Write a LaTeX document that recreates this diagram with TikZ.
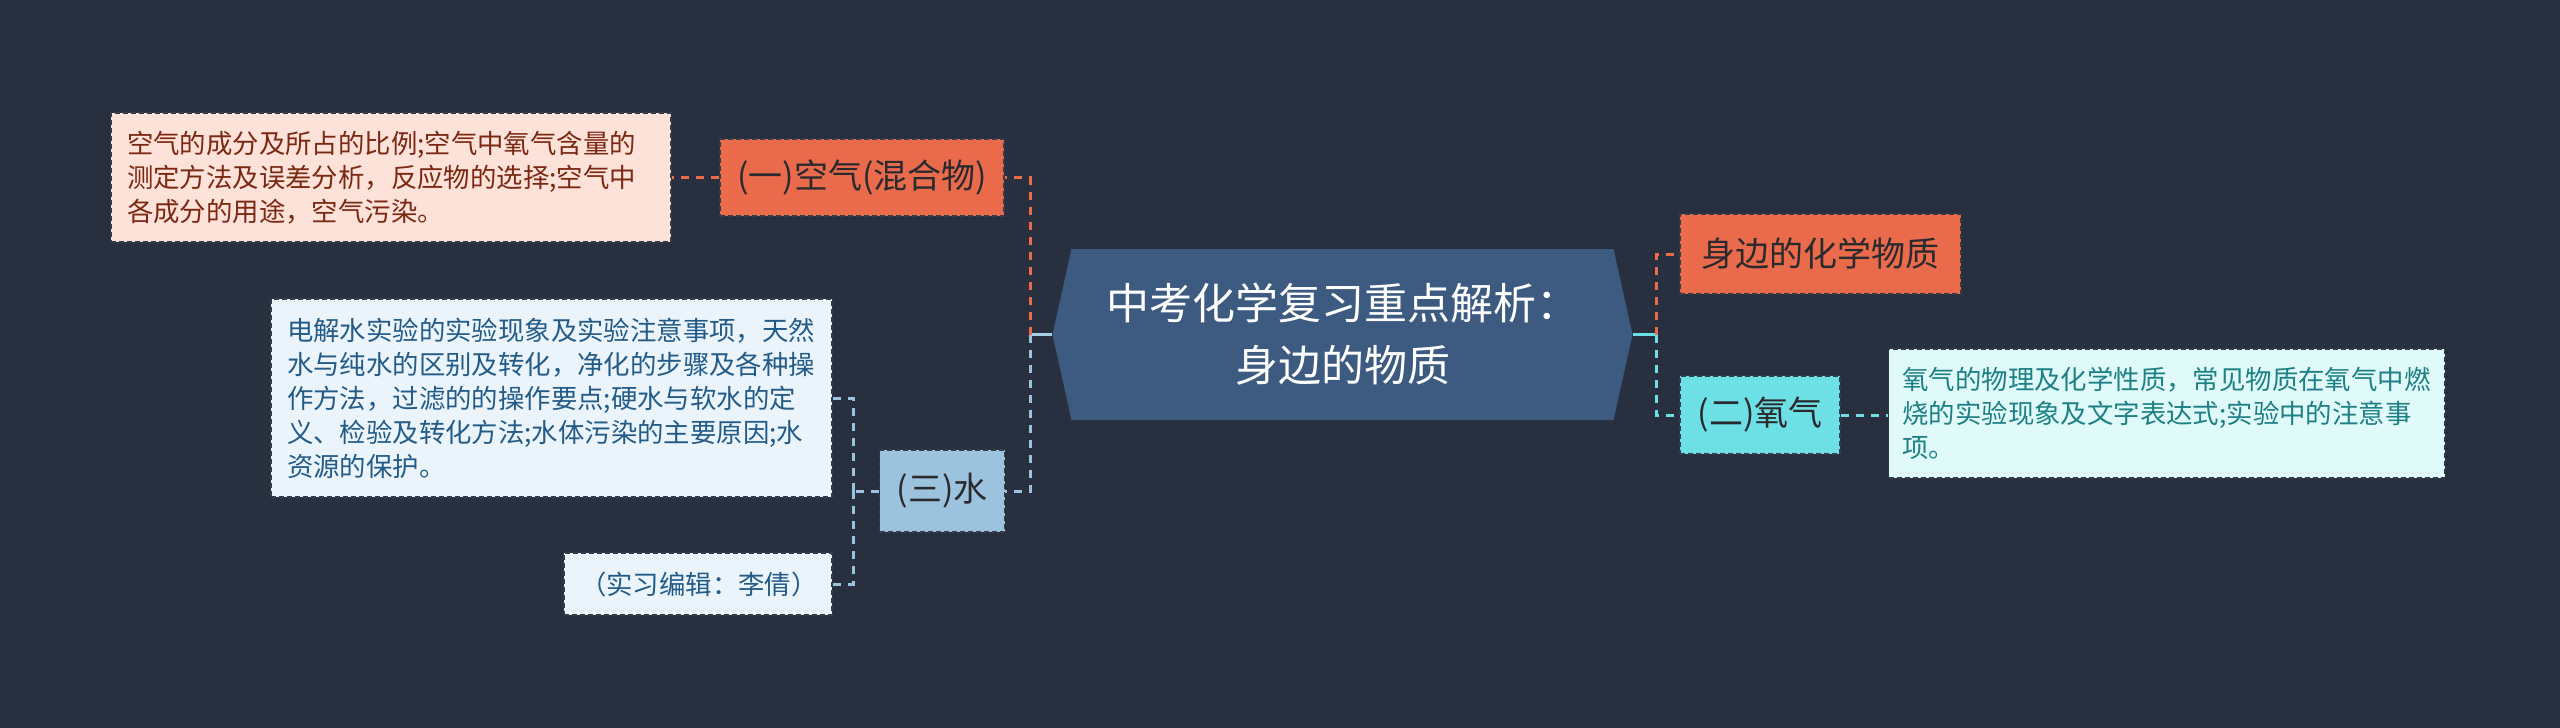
\documentclass[tikz,border=0pt]{standalone}
\usepackage{fontspec}
\setmainfont{Noto Sans CJK SC}
\usetikzlibrary{shapes.symbols,positioning}
\definecolor{bgnavy}{HTML}{283040}
\definecolor{rootblue}{HTML}{3D5A80}
\definecolor{rootlink}{HTML}{A9CEE8}
\definecolor{airred}{HTML}{EA6B4B}
\definecolor{airpink}{HTML}{FDE2DA}
\definecolor{airtext}{HTML}{7B2812}
\definecolor{waterblue}{HTML}{9CC3DD}
\definecolor{waterpale}{HTML}{EBF4FA}
\definecolor{watertext}{HTML}{235B88}
\definecolor{oxycyan}{HTML}{6CE0E4}
\definecolor{oxypale}{HTML}{E0F9F9}
\definecolor{oxytext}{HTML}{1D8084}
\definecolor{boxline}{HTML}{343B4A}
\definecolor{topictext}{HTML}{2A2A2E}

\begin{document}
\begin{tikzpicture}[x=0.5pt,y=-0.5pt,
  topic/.style={draw=boxline, dash pattern=on 2.5pt off 1.5pt, line width=0.8pt, inner sep=0pt,
    font=\fontsize{17}{20}\selectfont, text=topictext},
  note/.style={draw=boxline, dash pattern=on 2.5pt off 1.5pt, line width=0.8pt, inner xsep=8pt, inner ysep=0pt,
    align=left, font=\fontsize{13.2}{17}\selectfont},
  link/.style={line width=1.5pt, dash pattern=on 4pt off 3.5pt},
  rootlinkstyle/.style={line width=1.8pt}
]
% background and page size
\path[use as bounding box, fill=bgnavy] (0,0) rectangle (2560,728);

% central topic
\node[signal, signal to=west and east, signal pointer angle=155, fill=rootblue,
  minimum width=290pt, minimum height=85.5pt, inner sep=0pt, align=center,
  text=white, font=\fontsize{21.5}{31}\selectfont] (root) at (1342.5,334.5)
  {中考化学复习重点解析：\\身边的物质};

% left branches
\node[topic, fill=airred, minimum width=142pt, minimum height=38.5pt] (air) at (862,177.5) {(一)空气(混合物)};
\node[note, fill=airpink, text=airtext, text width=264pt, minimum height=64.5pt] (airtxt) at (391,177.5)
  {空气的成分及所占的比例;空气中氧气含量的\\测定方法及误差分析，反应物的选择;空气中\\各成分的用途，空气污染。};
\node[topic, fill=waterblue, minimum width=62.5pt, minimum height=41pt] (water) at (942,491) {(三)水};
\node[note, fill=waterpale, text=watertext, text width=264.5pt, minimum height=99pt] (watertxt) at (551.5,398)
  {电解水实验的实验现象及实验注意事项，天然\\水与纯水的区别及转化，净化的步骤及各种操\\作方法，过滤的的操作要点;硬水与软水的定\\义、检验及转化方法;水体污染的主要原因;水\\资源的保护。};
\node[note, fill=waterpale, text=watertext, text width=118pt, minimum height=31pt, align=center] (editor) at (698,584)
  {（实习编辑：李倩）};

% right branches
\node[topic, fill=airred, minimum width=140.5pt, minimum height=40pt] (chem) at (1820.5,254) {身边的化学物质};
\node[topic, fill=oxycyan, minimum width=80pt, minimum height=39pt] (oxy) at (1760,415) {(二)氧气};
\node[note, fill=oxypale, text=oxytext, text width=264pt, inner xsep=7pt, minimum height=64.5pt] (oxytxt) at (2166.5,413.5)
  {氧气的物理及化学性质，常见物质在氧气中燃\\烧的实验现象及文字表达式;实验中的注意事\\项。};

% junctions
\coordinate (jl) at (1030,334.5);
\coordinate (jr) at (1656,334.5);
\coordinate (jw) at (853,491);

% connectors
\draw[rootlinkstyle, rootlink] (root.west) -- (jl);
\draw[rootlinkstyle, oxycyan] (root.east) -- (jr);
\draw[link, airred] (jl) |- (air.east);
\draw[link, waterblue] (jl) |- (water.east);
\draw[link, airred] (jr) |- (chem.west);
\draw[link, oxycyan] (jr) |- (oxy.west);
\draw[link, airred] (air.west) -- (airtxt.east);
\draw[link, oxycyan] (oxy.east) -- (oxy.east -| oxytxt.west);
\draw[link, waterblue] (water.west) -- (jw);
\draw[link, waterblue] (jw) |- (watertxt.east);
\draw[link, waterblue] (jw) |- (editor.east);
\end{tikzpicture}
\end{document}
